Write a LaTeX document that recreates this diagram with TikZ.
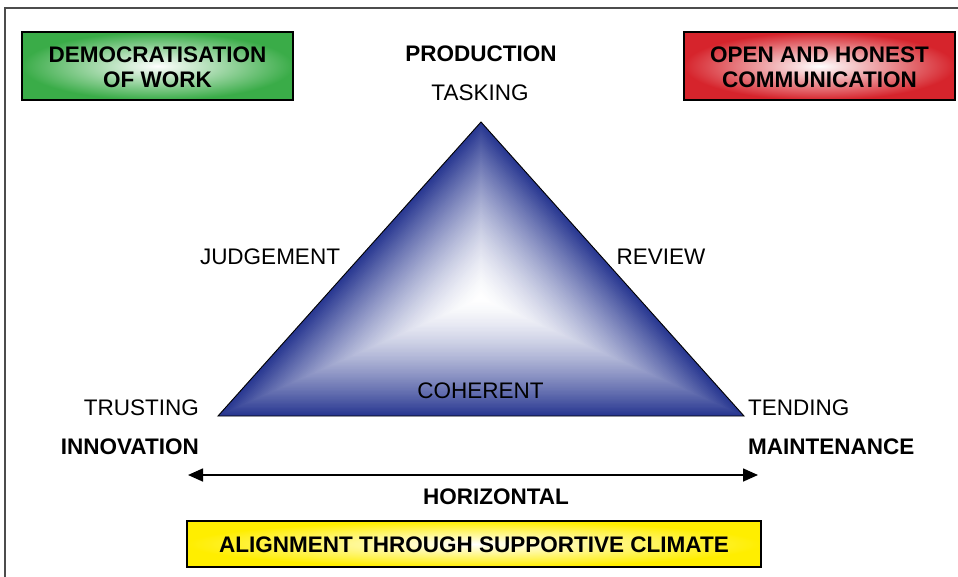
\documentclass[tikz,border=0pt]{standalone}
\usepackage{fontspec}
\setmainfont{Liberation Sans}
\usetikzlibrary{arrows.meta}
\definecolor{triblue}{RGB}{40,55,145}
\definecolor{boxgreen}{RGB}{58,172,72}
\definecolor{boxred}{RGB}{214,36,44}
\definecolor{boxyellow}{RGB}{255,238,0}
\begin{document}
\begin{tikzpicture}[x=1pt,y=-1pt,
  lbl/.style={font=\fontsize{22.5}{25}\selectfont, inner sep=0pt},
  blbl/.style={font=\fontsize{22.5}{25}\selectfont\bfseries, inner sep=0pt},
  box/.style={draw=black, line width=1.3pt, inner sep=0pt},
  boxtxt/.style={align=center, inner sep=0pt, font=\fontsize{22.5}{25}\selectfont\bfseries}]
\useasboundingbox (0,0) rectangle (958,576);
% frame
\draw[line width=1.5pt, black!70] (5,590) -- (5,8) -- (970,8);
% boxes
\node[box, inner color=white, outer color=boxgreen, minimum width=271pt, minimum height=68pt] (demo) at (157.5,66) {};
\node[boxtxt] (demot) at ([yshift=-1.5pt]demo.center) {DEMOCRATISATION\\OF WORK};
\node[box, inner color=white, outer color=boxred, minimum width=271pt, minimum height=68pt] (open) at (819.5,66) {};
\node[boxtxt] (opent) at ([yshift=-1.5pt]open.center) {OPEN AND HONEST\\COMMUNICATION};
\node[box, inner color=white, outer color=boxyellow, minimum width=574pt, minimum height=46pt] (align) at (474,544) {};
\node[boxtxt] (alignt) at ([yshift=-0.5pt]align.center) {ALIGNMENT THROUGH SUPPORTIVE CLIMATE};
% triangle
\coordinate (apex) at (481,122);
\coordinate (bl) at (218,416);
\coordinate (br) at (744,416);
\begin{scope}[shift={(481,298.4)}]
\foreach \i in {0,...,89}{
  \pgfmathsetmacro{\s}{1-\i/90}
  \pgfmathsetmacro{\p}{100*(\s)^1.5}
  \fill[triblue!\p!white, scale=\s] (0,-176.4) -- (-263,117.6) -- (263,117.6) -- cycle;
}
\end{scope}
\draw[line width=0.9pt, black] (apex) -- (bl) -- (br) -- cycle;
% labels
\node[blbl] (prod) at (481,54) {PRODUCTION};
\node[lbl] (task) at (480,93) {TASKING};
\node[lbl] (judg) at (270,257) {JUDGEMENT};
\node[lbl] (rev) at (661,257) {REVIEW};
\node[lbl] (coh) at (480.5,391) {COHERENT};
\node[lbl, anchor=east] (trust) at (199,408) {TRUSTING};
\node[lbl, anchor=west] (tend) at (748,408) {TENDING};
\node[blbl, anchor=east] (innov) at (199,447) {INNOVATION};
\node[blbl, anchor=west] (maint) at (748,447) {MAINTENANCE};
\node[blbl] (horiz) at (496,497) {HORIZONTAL};
% arrow
\coordinate (al) at (188,475);
\coordinate (ar) at (758,475);
\draw[line width=1.6pt, {Triangle[length=15pt,width=13pt]}-{Triangle[length=15pt,width=13pt]}] (al) -- (ar);
\end{tikzpicture}
\end{document}
